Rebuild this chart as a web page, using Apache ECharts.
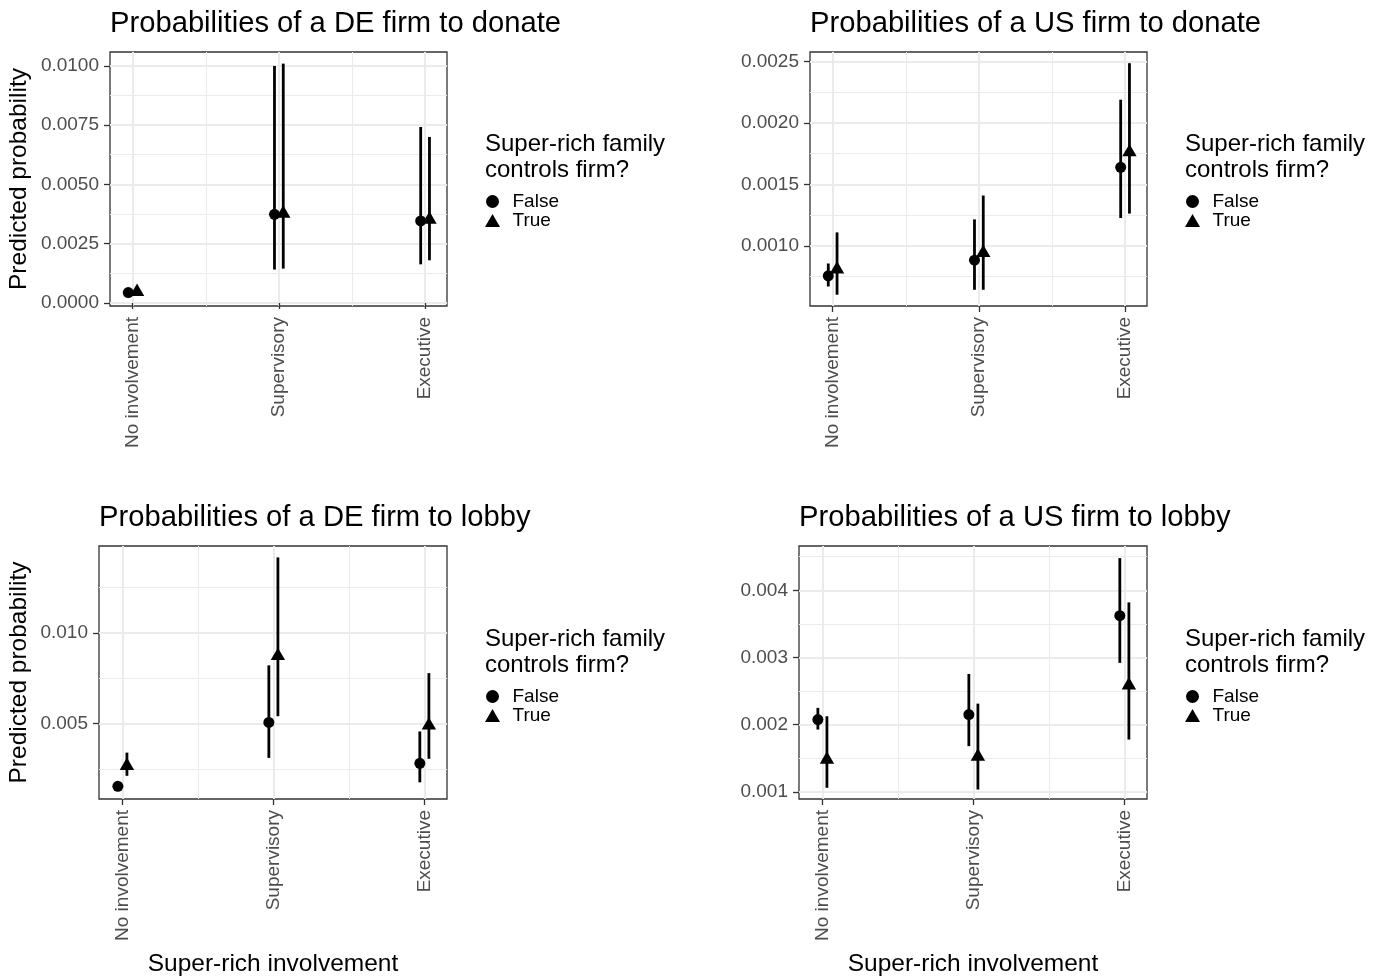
<!DOCTYPE html>
<html><head><meta charset="utf-8">
<script src="https://cdn.jsdelivr.net/npm/echarts@6/dist/echarts.min.js"></script>
<style>html,body{margin:0;padding:0;background:#fff}#c{width:1385px;height:979px}</style>
</head><body><div id="c"></div>
<script>
// ---------------- DATA ----------------
const categories = ['No involvement', 'Supervisory', 'Executive'];
const groupNames = ['False', 'True'];
const legendTitle = 'Super-rich family\ncontrols firm?';
const yAxisTitle = 'Predicted probability';
const xAxisTitle = 'Super-rich involvement';

// DE donate
const deDonateFalseMean = [0.00044, 0.00374, 0.00346];
const deDonateFalseLow  = [0.00032, 0.00141, 0.00163];
const deDonateFalseHigh = [0.00056, 0.00999, 0.00742];
const deDonateTrueMean  = [0.00047, 0.00377, 0.00352];
const deDonateTrueLow   = [0.00035, 0.00145, 0.00180];
const deDonateTrueHigh  = [0.00062, 0.01009, 0.00700];
const deDonateTicks = ['0.0000', '0.0025', '0.0050', '0.0075', '0.0100'];

// US donate
const usDonateFalseMean = [0.000757, 0.000884, 0.00164];
const usDonateFalseLow  = [0.000670, 0.000643, 0.001227];
const usDonateFalseHigh = [0.000857, 0.001216, 0.00219];
const usDonateTrueMean  = [0.00081, 0.000943, 0.001763];
const usDonateTrueLow   = [0.000603, 0.000643, 0.001263];
const usDonateTrueHigh  = [0.00111, 0.00141, 0.002487];
const usDonateTicks = ['0.0010', '0.0015', '0.0020', '0.0025'];

// DE lobby
const deLobbyFalseMean = [0.00153, 0.00506, 0.00280];
const deLobbyFalseLow  = [0.00143, 0.00310, 0.00175];
const deLobbyFalseHigh = [0.00165, 0.00821, 0.00456];
const deLobbyTrueMean  = [0.00266, 0.00873, 0.00489];
const deLobbyTrueLow   = [0.00211, 0.00540, 0.00305];
const deLobbyTrueHigh  = [0.00339, 0.01417, 0.00778];
const deLobbyTicks = ['0.005', '0.010'];

// US lobby
const usLobbyFalseMean = [0.002076, 0.00215, 0.003623];
const usLobbyFalseLow  = [0.001927, 0.00168, 0.00292];
const usLobbyFalseHigh = [0.00225, 0.002755, 0.00448];
const usLobbyTrueMean  = [0.00148, 0.001525, 0.002586];
const usLobbyTrueLow   = [0.00106, 0.001034, 0.001778];
const usLobbyTrueHigh  = [0.002125, 0.002313, 0.00382];
const usLobbyTicks = ['0.001', '0.002', '0.003', '0.004'];

// ---------------- LAYOUT ----------------
const FONT = '"Liberation Sans", Arial, Helvetica, sans-serif';
const panels = [
  { title: 'Probabilities of a DE firm to donate', grid: {left: 110, top: 52, width: 337, height: 254},
    yMin: -0.000126, yMax: 0.01058, ticks: deDonateTicks, yName: true, xName: false, nameGap: 78,
    f: [deDonateFalseMean, deDonateFalseLow, deDonateFalseHigh], t: [deDonateTrueMean, deDonateTrueLow, deDonateTrueHigh],
    legendLeft: 485, legendTop: 0 },
  { title: 'Probabilities of a US firm to donate', grid: {left: 810, top: 52, width: 337, height: 254},
    yMin: 0.000511, yMax: 0.002578, ticks: usDonateTicks, yName: false, xName: false,
    f: [usDonateFalseMean, usDonateFalseLow, usDonateFalseHigh], t: [usDonateTrueMean, usDonateTrueLow, usDonateTrueHigh],
    legendLeft: 1185, legendTop: 0 },
  { title: 'Probabilities of a DE firm to lobby', grid: {left: 99, top: 546, width: 348, height: 253},
    yMin: 0.00083, yMax: 0.0148, ticks: deLobbyTicks, yName: true, xName: true, nameGap: 67,
    f: [deLobbyFalseMean, deLobbyFalseLow, deLobbyFalseHigh], t: [deLobbyTrueMean, deLobbyTrueLow, deLobbyTrueHigh],
    legendLeft: 485, legendTop: 495 },
  { title: 'Probabilities of a US firm to lobby', grid: {left: 799, top: 546, width: 348, height: 253},
    yMin: 0.000893, yMax: 0.00466, ticks: usLobbyTicks, yName: false, xName: true,
    f: [usLobbyFalseMean, usLobbyFalseLow, usLobbyFalseHigh], t: [usLobbyTrueMean, usLobbyTrueLow, usLobbyTrueHigh],
    legendLeft: 1185, legendTop: 495 }
];

const X_MIN = 0.845, X_MAX = 3.15, DODGE = 0.03;
const TRI_W = 14.4, TRI_H = 12.4;
const TRI_PATH = 'path://M0,-1.555L1.347,0.778L-1.347,0.778Z';
const MAJOR = '#EBEBEB';

const option = {
  animation: false,
  backgroundColor: '#ffffff',
  textStyle: {fontFamily: FONT},
  title: [], legend: [], grid: [], xAxis: [], yAxis: [], series: []
};

panels.forEach((p, i) => {
  const majorY = p.ticks.map(Number);
  const step = majorY[1] - majorY[0];
  const minorY = [majorY[0] - step / 2].concat(majorY.map(v => v + step / 2)).filter(v => v > p.yMin && v < p.yMax);

  option.title.push({
    text: p.title, left: p.grid.left, top: p.grid.top - 45, padding: 0,
    textStyle: {fontFamily: FONT, fontSize: 29.2, fontWeight: 'normal', color: '#000', lineHeight: 34}
  });
  option.title.push({
    text: legendTitle, left: p.legendLeft, top: 132 + p.legendTop, padding: 0,
    textStyle: {fontFamily: FONT, fontSize: 24, fontWeight: 'normal', color: '#000', lineHeight: 25.5}
  });
  option.legend.push({
    orient: 'vertical', left: p.legendLeft, top: 192 + p.legendTop, padding: 0,
    itemWidth: 16, itemHeight: 13, itemGap: 0, selectedMode: false,
    textStyle: {fontFamily: FONT, fontSize: 19, color: '#000', lineHeight: 18, padding: [0, 0, 0, 7]},
    data: [
      {name: groupNames[0], icon: 'circle', itemStyle: {color: '#000'}},
      {name: groupNames[1], icon: TRI_PATH, itemStyle: {color: '#000'}}
    ]
  });
  option.grid.push(Object.assign({show: true, borderColor: '#333333', borderWidth: 1.3, backgroundColor: '#fff', containLabel: false}, p.grid));

  // main x axis
  option.xAxis.push({
    type: 'value', gridIndex: i, min: X_MIN, max: X_MAX,
    name: p.xName ? xAxisTitle : '', nameLocation: 'middle', nameGap: 153,
    nameTextStyle: {fontFamily: FONT, fontSize: 24.5, color: '#000'},
    axisLine: {show: false},
    axisTick: {show: true, length: 6, customValues: [1, 2, 3], lineStyle: {color: '#333333', width: 1.3}},
    axisLabel: {show: true, rotate: 90, margin: 11, customValues: [1, 2, 3],
      fontFamily: FONT, fontSize: 19, color: '#4D4D4D',
      formatter: v => categories[Math.round(v) - 1]},
    splitLine: {show: true, lineStyle: {color: MAJOR, width: 2}}
  });
  // minor x grid
  option.xAxis.push({
    type: 'value', gridIndex: i, min: X_MIN, max: X_MAX,
    axisLine: {show: false}, axisLabel: {show: false},
    axisTick: {show: false, customValues: [1.5, 2.5]},
    splitLine: {show: true, lineStyle: {color: MAJOR, width: 1}}
  });
  // main y axis
  option.yAxis.push({
    type: 'value', gridIndex: i, min: p.yMin, max: p.yMax,
    name: p.yName ? yAxisTitle : '', nameLocation: 'middle', nameGap: p.nameGap || 60,
    nameTextStyle: {fontFamily: FONT, fontSize: 24.5, color: '#000'},
    axisLine: {show: false},
    axisTick: {show: true, length: 6, customValues: majorY, lineStyle: {color: '#333333', width: 1.3}},
    axisLabel: {show: true, margin: 11, customValues: majorY,
      fontFamily: FONT, fontSize: 19, color: '#4D4D4D',
      formatter: v => { const s = p.ticks.find(t => Math.abs(Number(t) - v) < 1e-9); return s === undefined ? '' : s; }},
    splitLine: {show: true, lineStyle: {color: MAJOR, width: 2}}
  });
  // minor y grid
  option.yAxis.push({
    type: 'value', gridIndex: i, min: p.yMin, max: p.yMax,
    axisLine: {show: false}, axisLabel: {show: false},
    axisTick: {show: false, customValues: minorY},
    splitLine: {show: true, lineStyle: {color: MAJOR, width: 1}}
  });

  const groups = [{name: groupNames[0], arr: p.f, off: -DODGE}, {name: groupNames[1], arr: p.t, off: DODGE}];
  groups.forEach((g, gi) => {
    const barData = categories.map((c, k) => [k + 1 + g.off, g.arr[1][k], g.arr[2][k]]);
    option.series.push({
      type: 'custom', name: g.name, xAxisIndex: 2 * i, yAxisIndex: 2 * i,
      encode: {x: 0, y: [1, 2]}, data: barData, z: 3, silent: true,
      renderItem: (params, api) => {
        const a = api.coord([api.value(0), api.value(1)]);
        const b = api.coord([api.value(0), api.value(2)]);
        return {type: 'line', shape: {x1: a[0], y1: a[1], x2: b[0], y2: b[1]},
          style: {stroke: '#000', lineWidth: 2.8}};
      }
    });
    const ptData = categories.map((c, k) => [k + 1 + g.off, g.arr[0][k]]);
    option.series.push(Object.assign({
      type: 'scatter', name: g.name, xAxisIndex: 2 * i, yAxisIndex: 2 * i,
      data: ptData, z: 4, itemStyle: {color: '#000', opacity: 1}, silent: true
    }, gi === 0 ? {symbol: 'circle', symbolSize: 11}
               : {symbol: TRI_PATH, symbolSize: [TRI_W, TRI_H], symbolOffset: [0, -TRI_H / 6]}));
  });
});

const chart = echarts.init(document.getElementById('c'), null, {renderer: 'canvas'});
chart.setOption(option);
</script>
</body></html>
